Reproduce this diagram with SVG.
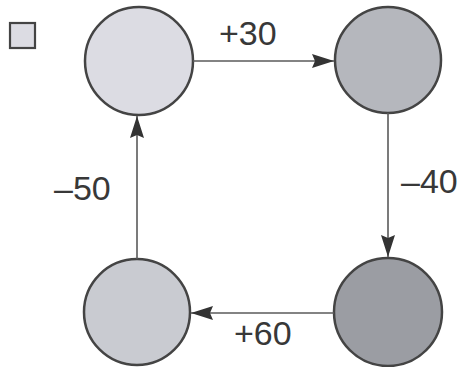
<svg xmlns="http://www.w3.org/2000/svg" width="462" height="367" viewBox="0 0 462 367">
<defs>
<style>
.node{stroke:#444;stroke-width:2.5}
.edge{stroke:#5a5a5a;stroke-width:1.6;fill:none}
.lbl{font-family:"Liberation Sans",Arial,sans-serif;font-size:34px;fill:#383838}
</style>
<marker id="ah" markerUnits="userSpaceOnUse" markerWidth="24" markerHeight="16" refX="22" refY="7" orient="auto">
<path d="M0,0 L22,7 L0,14 L3,7 Z" fill="#333"/>
</marker>
</defs>
<rect width="462" height="367" fill="#fff"/>
<g id="legend"><rect x="10" y="23" width="25" height="25" fill="#dcdce3" stroke="#444" stroke-width="2.2"/></g>
<g id="n1"><circle class="node" cx="139" cy="61" r="54" fill="#dcdce3"/></g>
<g id="n2"><circle class="node" cx="388" cy="60" r="53" fill="#b5b7bd"/></g>
<g id="n3"><circle class="node" cx="388" cy="312" r="54" fill="#9b9da3"/></g>
<g id="n4"><circle class="node" cx="137" cy="312" r="53" fill="#c9cbd1"/></g>
<g id="edges">
<line class="edge" x1="193" y1="61" x2="334" y2="61" marker-end="url(#ah)"/>
<line class="edge" x1="388" y1="113" x2="388" y2="257" marker-end="url(#ah)"/>
<line class="edge" x1="334" y1="313" x2="191" y2="313" marker-end="url(#ah)"/>
<line class="edge" x1="137" y1="259" x2="137" y2="116" marker-end="url(#ah)"/>
<text class="lbl" x="219" y="45">+30</text>
<text class="lbl" x="401" y="193">–40</text>
<text class="lbl" x="54" y="200">–50</text>
<text class="lbl" x="234" y="345">+60</text>
</g>
</svg>
